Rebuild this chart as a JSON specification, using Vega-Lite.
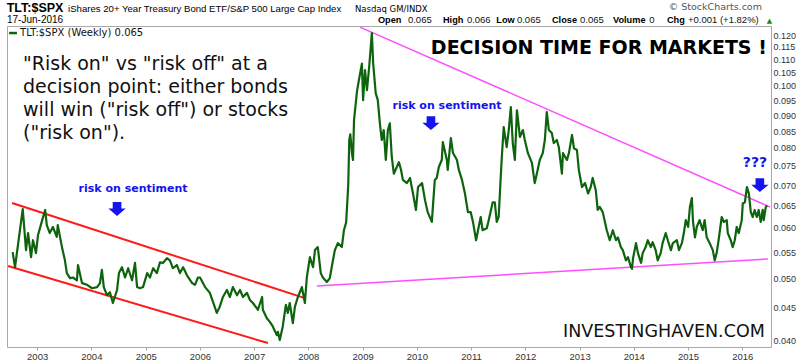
{
  "$schema": "https://vega.github.io/schema/vega-lite/v6.json",
  "width": 764,
  "height": 321,
  "autosize": {"type": "none"},
  "padding": {"left": 7, "top": 26, "right": 29, "bottom": 13},
  "background": "white",
  "config": {"view": {"stroke": "#a8a8a8", "strokeWidth": 1}},
  "encoding": {
    "x": {
      "field": "date", "type": "temporal",
      "scale": {"type": "utc", "nice": false, "domain": [{"year": 2002, "month": 6, "date": 12, "utc": true}, {"year": 2016, "month": 7, "date": 13, "utc": true}]},
      "axis": {
        "title": null, "grid": false, "domain": false, "ticks": true, "tickSize": 3, "tickColor": "#aaaaaa",
        "labelFont": "Liberation Sans", "labelFontSize": 9.5, "labelColor": "#333333", "labelPadding": 1, "labelFlush": false,
        "format": "%Y", "formatType": "utc",
        "values": [{"year": 2003, "utc": true}, {"year": 2004, "utc": true}, {"year": 2005, "utc": true}, {"year": 2006, "utc": true}, {"year": 2007, "utc": true}, {"year": 2008, "utc": true}, {"year": 2009, "utc": true}, {"year": 2010, "utc": true}, {"year": 2011, "utc": true}, {"year": 2012, "utc": true}, {"year": 2013, "utc": true}, {"year": 2014, "utc": true}, {"year": 2015, "utc": true}, {"year": 2016, "utc": true}]
      }
    },
    "y": {
      "field": "v", "type": "quantitative",
      "scale": {"type": "log", "domain": [0.0391, 0.124], "nice": false, "zero": false},
      "axis": {
        "orient": "right", "title": null, "grid": false, "domain": false, "ticks": false,
        "labelFont": "Liberation Sans", "labelFontSize": 9, "labelColor": "#333333", "labelPadding": 2,
        "labelOverlap": false, "labelFlush": false, "format": ".3f",
        "values": [0.04, 0.045, 0.05, 0.055, 0.06, 0.065, 0.07, 0.075, 0.08, 0.085, 0.09, 0.095, 0.1, 0.105, 0.11, 0.115, 0.12]
      }
    }
  },
  "layer": [
    {
      "data": {"values": [
        {"seg": "upper", "date": "2002-07-16", "v": 0.06561}, {"seg": "upper", "date": "2007-12-09", "v": 0.04661},
        {"seg": "lower", "date": "2002-06-19", "v": 0.05233}, {"seg": "lower", "date": "2007-04-04", "v": 0.03966}
      ]},
      "mark": {"type": "line", "color": "#ff1a1a", "strokeWidth": 2},
      "encoding": {"detail": {"field": "seg"}}
    },
    {
      "data": {"values": [
        {"seg": "upper", "date": "2008-12-14", "v": 0.12352}, {"seg": "upper", "date": "2016-07-06", "v": 0.06468},
        {"seg": "lower", "date": "2008-02-28", "v": 0.04867}, {"seg": "lower", "date": "2016-06-22", "v": 0.05366}
      ]},
      "mark": {"type": "line", "color": "#ff4dff", "strokeWidth": 1.5},
      "encoding": {"detail": {"field": "seg"}}
    },
    {
      "data": {"values": [
        {"date": "2002-07-20", "v": 0.0550}, {"date": "2002-08-05", "v": 0.0521}, {"date": "2002-09-26", "v": 0.0642}, {"date": "2002-10-18", "v": 0.0554},
        {"date": "2002-11-01", "v": 0.0589}, {"date": "2002-11-21", "v": 0.0540}, {"date": "2002-12-04", "v": 0.0574}, {"date": "2002-12-24", "v": 0.0548},
        {"date": "2003-01-07", "v": 0.0585}, {"date": "2003-02-04", "v": 0.0617}, {"date": "2003-02-24", "v": 0.0640}, {"date": "2003-03-07", "v": 0.0606},
        {"date": "2003-03-27", "v": 0.0589}, {"date": "2003-04-17", "v": 0.0602}, {"date": "2003-05-13", "v": 0.0581}, {"date": "2003-05-20", "v": 0.0606},
        {"date": "2003-06-17", "v": 0.0560}, {"date": "2003-07-07", "v": 0.0534}, {"date": "2003-07-20", "v": 0.0510}, {"date": "2003-08-10", "v": 0.0501},
        {"date": "2003-08-30", "v": 0.0502}, {"date": "2003-09-26", "v": 0.0497}, {"date": "2003-10-03", "v": 0.0525}, {"date": "2003-10-30", "v": 0.0492},
        {"date": "2003-12-03", "v": 0.0489}, {"date": "2004-01-06", "v": 0.0483}, {"date": "2004-02-09", "v": 0.0485}, {"date": "2004-02-28", "v": 0.0492},
        {"date": "2004-03-12", "v": 0.0516}, {"date": "2004-03-25", "v": 0.0485}, {"date": "2004-04-15", "v": 0.0471}, {"date": "2004-05-05", "v": 0.0476},
        {"date": "2004-05-25", "v": 0.0458}, {"date": "2004-06-22", "v": 0.0480}, {"date": "2004-07-05", "v": 0.0510}, {"date": "2004-07-25", "v": 0.0521},
        {"date": "2004-08-15", "v": 0.0502}, {"date": "2004-09-05", "v": 0.0519}, {"date": "2004-10-01", "v": 0.0497}, {"date": "2004-10-21", "v": 0.0529},
        {"date": "2004-11-04", "v": 0.0485}, {"date": "2004-11-24", "v": 0.0483}, {"date": "2004-12-14", "v": 0.0485}, {"date": "2005-01-11", "v": 0.0510},
        {"date": "2005-01-30", "v": 0.0502}, {"date": "2005-02-20", "v": 0.0519}, {"date": "2005-03-17", "v": 0.0510}, {"date": "2005-04-07", "v": 0.0530},
        {"date": "2005-04-27", "v": 0.0529}, {"date": "2005-05-24", "v": 0.0538}, {"date": "2005-06-13", "v": 0.0534}, {"date": "2005-07-03", "v": 0.0519},
        {"date": "2005-07-30", "v": 0.0525}, {"date": "2005-08-20", "v": 0.0510}, {"date": "2005-09-10", "v": 0.0521}, {"date": "2005-10-06", "v": 0.0506},
        {"date": "2005-11-10", "v": 0.0492}, {"date": "2005-11-29", "v": 0.0489}, {"date": "2005-12-19", "v": 0.0502}, {"date": "2006-01-02", "v": 0.0502},
        {"date": "2006-02-05", "v": 0.0485}, {"date": "2006-03-09", "v": 0.0475}, {"date": "2006-04-25", "v": 0.0442}, {"date": "2006-05-15", "v": 0.0452},
        {"date": "2006-06-05", "v": 0.0468}, {"date": "2006-07-02", "v": 0.0480}, {"date": "2006-07-22", "v": 0.0468}, {"date": "2006-08-11", "v": 0.0485},
        {"date": "2006-09-08", "v": 0.0471}, {"date": "2006-09-28", "v": 0.0480}, {"date": "2006-10-18", "v": 0.0468}, {"date": "2006-11-14", "v": 0.0475},
        {"date": "2006-12-04", "v": 0.0463}, {"date": "2006-12-24", "v": 0.0458}, {"date": "2007-01-27", "v": 0.0447}, {"date": "2007-02-24", "v": 0.0468},
        {"date": "2007-03-01", "v": 0.0447}, {"date": "2007-03-27", "v": 0.0434}, {"date": "2007-04-17", "v": 0.0428}, {"date": "2007-05-07", "v": 0.0421},
        {"date": "2007-06-03", "v": 0.0408}, {"date": "2007-06-10", "v": 0.0413}, {"date": "2007-06-23", "v": 0.0401}, {"date": "2007-07-13", "v": 0.0421},
        {"date": "2007-08-03", "v": 0.0455}, {"date": "2007-08-16", "v": 0.0442}, {"date": "2007-08-29", "v": 0.0458}, {"date": "2007-09-19", "v": 0.0426},
        {"date": "2007-10-03", "v": 0.0452}, {"date": "2007-10-23", "v": 0.0468}, {"date": "2007-11-19", "v": 0.0485}, {"date": "2007-12-09", "v": 0.0458},
        {"date": "2007-12-22", "v": 0.0502}, {"date": "2008-01-12", "v": 0.0540}, {"date": "2008-02-02", "v": 0.0521}, {"date": "2008-02-15", "v": 0.0554},
        {"date": "2008-03-05", "v": 0.0560}, {"date": "2008-03-25", "v": 0.0510}, {"date": "2008-04-08", "v": 0.0502}, {"date": "2008-05-05", "v": 0.0494},
        {"date": "2008-05-25", "v": 0.0501}, {"date": "2008-06-15", "v": 0.0534}, {"date": "2008-06-28", "v": 0.0554}, {"date": "2008-07-18", "v": 0.0568},
        {"date": "2008-08-14", "v": 0.0560}, {"date": "2008-08-28", "v": 0.0595}, {"date": "2008-09-12", "v": 0.0612}, {"date": "2008-09-26", "v": 0.0700},
        {"date": "2008-10-03", "v": 0.0823}, {"date": "2008-10-10", "v": 0.0840}, {"date": "2008-10-21", "v": 0.0785}, {"date": "2008-10-28", "v": 0.0766},
        {"date": "2008-11-04", "v": 0.0884}, {"date": "2008-11-24", "v": 0.0981}, {"date": "2008-12-07", "v": 0.1021}, {"date": "2008-12-27", "v": 0.1083},
        {"date": "2009-01-04", "v": 0.0950}, {"date": "2009-01-17", "v": 0.1058}, {"date": "2009-01-30", "v": 0.0985}, {"date": "2009-02-14", "v": 0.1070},
        {"date": "2009-03-04", "v": 0.1209}, {"date": "2009-03-13", "v": 0.1083}, {"date": "2009-03-30", "v": 0.0974}, {"date": "2009-04-13", "v": 0.0950},
        {"date": "2009-04-27", "v": 0.0874}, {"date": "2009-05-10", "v": 0.0823}, {"date": "2009-05-23", "v": 0.0853}, {"date": "2009-06-06", "v": 0.0766},
        {"date": "2009-06-20", "v": 0.0853}, {"date": "2009-07-03", "v": 0.0874}, {"date": "2009-07-16", "v": 0.0775}, {"date": "2009-07-30", "v": 0.0729},
        {"date": "2009-08-19", "v": 0.0747}, {"date": "2009-09-02", "v": 0.0760}, {"date": "2009-09-16", "v": 0.0740}, {"date": "2009-09-29", "v": 0.0713},
        {"date": "2009-10-26", "v": 0.0705}, {"date": "2009-11-16", "v": 0.0718}, {"date": "2009-12-06", "v": 0.0679}, {"date": "2009-12-26", "v": 0.0640},
        {"date": "2010-01-09", "v": 0.0695}, {"date": "2010-02-05", "v": 0.0705}, {"date": "2010-02-25", "v": 0.0663}, {"date": "2010-03-15", "v": 0.0635},
        {"date": "2010-04-12", "v": 0.0613}, {"date": "2010-04-19", "v": 0.0647}, {"date": "2010-05-02", "v": 0.0713}, {"date": "2010-05-15", "v": 0.0718},
        {"date": "2010-05-29", "v": 0.0747}, {"date": "2010-06-18", "v": 0.0766}, {"date": "2010-06-25", "v": 0.0817}, {"date": "2010-07-22", "v": 0.0766},
        {"date": "2010-07-28", "v": 0.0739}, {"date": "2010-08-18", "v": 0.0829}, {"date": "2010-09-01", "v": 0.0786}, {"date": "2010-09-28", "v": 0.0766},
        {"date": "2010-10-11", "v": 0.0739}, {"date": "2010-11-01", "v": 0.0713}, {"date": "2010-11-21", "v": 0.0679}, {"date": "2010-12-11", "v": 0.0635},
        {"date": "2010-12-30", "v": 0.0635}, {"date": "2011-01-14", "v": 0.0613}, {"date": "2011-02-04", "v": 0.0574}, {"date": "2011-02-17", "v": 0.0595},
        {"date": "2011-03-07", "v": 0.0624}, {"date": "2011-03-20", "v": 0.0595}, {"date": "2011-04-17", "v": 0.0599}, {"date": "2011-04-30", "v": 0.0617},
        {"date": "2011-05-27", "v": 0.0658}, {"date": "2011-06-10", "v": 0.0658}, {"date": "2011-06-23", "v": 0.0613}, {"date": "2011-07-06", "v": 0.0624},
        {"date": "2011-07-26", "v": 0.0766}, {"date": "2011-08-09", "v": 0.0862}, {"date": "2011-08-29", "v": 0.0802}, {"date": "2011-09-12", "v": 0.0853},
        {"date": "2011-09-26", "v": 0.0926}, {"date": "2011-10-09", "v": 0.0814}, {"date": "2011-10-23", "v": 0.0766}, {"date": "2011-11-06", "v": 0.0916},
        {"date": "2011-11-26", "v": 0.0832}, {"date": "2011-12-16", "v": 0.0853}, {"date": "2011-12-29", "v": 0.0823}, {"date": "2012-01-19", "v": 0.0785},
        {"date": "2012-02-15", "v": 0.0758}, {"date": "2012-03-05", "v": 0.0705}, {"date": "2012-03-19", "v": 0.0729}, {"date": "2012-04-08", "v": 0.0766},
        {"date": "2012-04-28", "v": 0.0785}, {"date": "2012-05-12", "v": 0.0823}, {"date": "2012-05-25", "v": 0.0910}, {"date": "2012-06-08", "v": 0.0853},
        {"date": "2012-06-28", "v": 0.0844}, {"date": "2012-07-11", "v": 0.0814}, {"date": "2012-08-01", "v": 0.0823}, {"date": "2012-08-14", "v": 0.0802},
        {"date": "2012-09-04", "v": 0.0729}, {"date": "2012-09-11", "v": 0.0785}, {"date": "2012-10-08", "v": 0.0766}, {"date": "2012-10-21", "v": 0.0785},
        {"date": "2012-11-11", "v": 0.0838}, {"date": "2012-11-24", "v": 0.0799}, {"date": "2012-12-14", "v": 0.0794}, {"date": "2012-12-27", "v": 0.0739},
        {"date": "2013-01-17", "v": 0.0695}, {"date": "2013-02-07", "v": 0.0705}, {"date": "2013-02-27", "v": 0.0679}, {"date": "2013-03-17", "v": 0.0695},
        {"date": "2013-03-30", "v": 0.0718}, {"date": "2013-04-20", "v": 0.0687}, {"date": "2013-05-03", "v": 0.0640}, {"date": "2013-05-17", "v": 0.0647},
        {"date": "2013-06-06", "v": 0.0635}, {"date": "2013-07-03", "v": 0.0595}, {"date": "2013-07-23", "v": 0.0574}, {"date": "2013-08-13", "v": 0.0595},
        {"date": "2013-09-03", "v": 0.0574}, {"date": "2013-09-16", "v": 0.0580}, {"date": "2013-10-06", "v": 0.0560}, {"date": "2013-10-19", "v": 0.0554},
        {"date": "2013-11-09", "v": 0.0534}, {"date": "2013-11-23", "v": 0.0540}, {"date": "2013-12-13", "v": 0.0521}, {"date": "2013-12-20", "v": 0.0518},
        {"date": "2013-12-27", "v": 0.0538}, {"date": "2014-01-16", "v": 0.0568}, {"date": "2014-01-29", "v": 0.0548}, {"date": "2014-02-19", "v": 0.0529},
        {"date": "2014-03-02", "v": 0.0548}, {"date": "2014-03-22", "v": 0.0560}, {"date": "2014-04-05", "v": 0.0574}, {"date": "2014-04-25", "v": 0.0560},
        {"date": "2014-05-08", "v": 0.0570}, {"date": "2014-05-28", "v": 0.0554}, {"date": "2014-06-11", "v": 0.0534}, {"date": "2014-07-01", "v": 0.0548},
        {"date": "2014-07-14", "v": 0.0568}, {"date": "2014-08-04", "v": 0.0589}, {"date": "2014-08-18", "v": 0.0574}, {"date": "2014-09-08", "v": 0.0554},
        {"date": "2014-09-21", "v": 0.0568}, {"date": "2014-10-18", "v": 0.0574}, {"date": "2014-11-01", "v": 0.0554}, {"date": "2014-11-21", "v": 0.0568},
        {"date": "2014-12-04", "v": 0.0589}, {"date": "2014-12-17", "v": 0.0617}, {"date": "2015-01-02", "v": 0.0602}, {"date": "2015-01-14", "v": 0.0647},
        {"date": "2015-01-27", "v": 0.0668}, {"date": "2015-02-04", "v": 0.0613}, {"date": "2015-02-17", "v": 0.0580}, {"date": "2015-03-01", "v": 0.0602},
        {"date": "2015-03-20", "v": 0.0617}, {"date": "2015-04-10", "v": 0.0595}, {"date": "2015-04-23", "v": 0.0617}, {"date": "2015-05-07", "v": 0.0580},
        {"date": "2015-05-27", "v": 0.0568}, {"date": "2015-06-17", "v": 0.0554}, {"date": "2015-06-30", "v": 0.0534}, {"date": "2015-07-13", "v": 0.0548},
        {"date": "2015-07-26", "v": 0.0574}, {"date": "2015-08-16", "v": 0.0624}, {"date": "2015-08-30", "v": 0.0613}, {"date": "2015-09-19", "v": 0.0617},
        {"date": "2015-09-26", "v": 0.0589}, {"date": "2015-10-16", "v": 0.0574}, {"date": "2015-10-29", "v": 0.0560}, {"date": "2015-11-12", "v": 0.0574},
        {"date": "2015-11-25", "v": 0.0602}, {"date": "2015-12-09", "v": 0.0589}, {"date": "2015-12-29", "v": 0.0617}, {"date": "2016-01-05", "v": 0.0655},
        {"date": "2016-01-19", "v": 0.0658}, {"date": "2016-02-02", "v": 0.0695}, {"date": "2016-02-15", "v": 0.0679}, {"date": "2016-02-28", "v": 0.0635},
        {"date": "2016-03-12", "v": 0.0624}, {"date": "2016-03-25", "v": 0.0640}, {"date": "2016-04-08", "v": 0.0624}, {"date": "2016-04-21", "v": 0.0640},
        {"date": "2016-05-05", "v": 0.0613}, {"date": "2016-05-18", "v": 0.0640}, {"date": "2016-05-25", "v": 0.0617}, {"date": "2016-06-08", "v": 0.0647},
        {"date": "2016-06-17", "v": 0.0650}
      ]},
      "mark": {"type": "line", "color": "#0d640d", "strokeWidth": 2.2, "strokeJoin": "round"}
    },
    {
      "data": {"values": [{"date": "2002-06-26", "v": 0.1209}, {"date": "2002-08-18", "v": 0.1209}]},
      "mark": {"type": "line", "color": "#0d640d", "strokeWidth": 2.5}
    },
    {
      "data": {"values": [{"date": "2002-09-08", "v": 0.1209, "label": "TLT:$SPX (Weekly) 0.065"}]},
      "mark": {"type": "text", "font": "DejaVu Sans", "fontSize": 10, "color": "#111111", "align": "left", "baseline": "middle"},
      "encoding": {"text": {"field": "label"}}
    },
    {
      "data": {"values": [{"date": "2002-06-10", "v": 0.1303, "label": "TLT:$SPX"}]},
      "mark": {"type": "text", "font": "Liberation Sans", "fontSize": 12.5, "fontWeight": "bold", "color": "#000000", "align": "left", "baseline": "alphabetic"},
      "encoding": {"text": {"field": "label"}}
    },
    {
      "data": {"values": [
        {"date": "2003-07-28", "v": 0.1303, "label": "iShares 20+ Year Treasury Bond ETF/S&P 500 Large Cap Index"}
      ]},
      "mark": {"type": "text", "font": "Liberation Sans", "fontSize": 9.6, "color": "#000000", "align": "left", "baseline": "alphabetic"},
      "encoding": {"text": {"field": "label"}}
    },
    {
      "data": {"values": [
        {"date": "2002-06-12", "v": 0.1253, "label": "17-Jun-2016"}
      ]},
      "mark": {"type": "text", "font": "Liberation Sans", "fontSize": 10, "color": "#000000", "align": "left", "baseline": "alphabetic"},
      "encoding": {"text": {"field": "label"}}
    },
    {
      "data": {"values": [{"date": "2008-11-10", "v": 0.1303, "label": "Nasdaq GM/INDX"}]},
      "mark": {"type": "text", "font": "DejaVu Sans", "fontSize": 8.5, "color": "#000000", "align": "left", "baseline": "alphabetic"},
      "encoding": {"text": {"field": "label"}}
    },
    {
      "data": {"values": [{"date": "2016-05-13", "v": 0.1313, "label": "© StockCharts.com"}]},
      "mark": {"type": "text", "font": "DejaVu Sans", "fontSize": 9.5, "color": "#555555", "align": "right", "baseline": "alphabetic"},
      "encoding": {"text": {"field": "label"}}
    },
    {
      "data": {"values": [
        {"date": "2009-04-14", "v": 0.1253, "label": "Open"},
        {"date": "2010-06-26", "v": 0.1253, "label": "High"},
        {"date": "2011-06-20", "v": 0.1253, "label": "Low"},
        {"date": "2012-06-29", "v": 0.1253, "label": "Close"},
        {"date": "2013-08-14", "v": 0.1253, "label": "Volume"},
        {"date": "2014-08-12", "v": 0.1253, "label": "Chg"}
      ]},
      "mark": {"type": "text", "font": "Liberation Sans", "fontSize": 9.2, "fontWeight": "bold", "color": "#000000", "align": "left", "baseline": "alphabetic"},
      "encoding": {"text": {"field": "label"}}
    },
    {
      "data": {"values": [
        {"date": "2009-11-02", "v": 0.1253, "label": "0.065"},
        {"date": "2010-12-04", "v": 0.1253, "label": "0.066"},
        {"date": "2011-11-06", "v": 0.1253, "label": "0.065"},
        {"date": "2013-01-04", "v": 0.1253, "label": "0.065"},
        {"date": "2014-04-15", "v": 0.1253, "label": "0"},
        {"date": "2015-01-01", "v": 0.1253, "label": "+0.001 (+1.82%)"}
      ]},
      "mark": {"type": "text", "font": "Liberation Sans", "fontSize": 9.5, "color": "#111111", "align": "left", "baseline": "alphabetic"},
      "encoding": {"text": {"field": "label"}}
    },
    {
      "data": {"values": [{"date": "2016-06-15", "v": 0.1253, "label": "▲"}]},
      "mark": {"type": "text", "font": "DejaVu Sans", "fontSize": 7, "color": "#1a8a1a", "align": "left", "baseline": "alphabetic"},
      "encoding": {"text": {"field": "label"}}
    },
    {
      "data": {"values": [{"date": "2002-09-28", "v": 0.10583, "label": ["\"Risk on\" vs \"risk off\" at a", "decision point: either bonds", "will win (\"risk off\") or stocks", "(\"risk on\")."]}]},
      "mark": {"type": "text", "font": "DejaVu Sans", "fontSize": 19, "lineHeight": 23, "color": "#111111", "align": "left", "baseline": "alphabetic"},
      "encoding": {"text": {"field": "label"}}
    },
    {
      "data": {"values": [{"date": "2016-06-15", "v": 0.11208, "label": "DECISION TIME FOR MARKETS !"}]},
      "mark": {"type": "text", "font": "DejaVu Sans", "fontSize": 19, "fontWeight": "bold", "color": "#000000", "align": "right", "baseline": "alphabetic"},
      "encoding": {"text": {"field": "label"}}
    },
    {
      "data": {"values": [{"date": "2016-06-01", "v": 0.04053, "label": "INVESTINGHAVEN.COM"}]},
      "mark": {"type": "text", "font": "DejaVu Sans", "fontSize": 17.5, "color": "#111111", "align": "right", "baseline": "alphabetic"},
      "encoding": {"text": {"field": "label"}}
    },
    {
      "data": {"values": [
        {"date": "2004-10-08", "v": 0.06898, "label": "risk on sentiment"},
        {"date": "2010-07-23", "v": 0.09297, "label": "risk on sentiment"}
      ]},
      "mark": {"type": "text", "font": "DejaVu Sans", "fontSize": 11, "fontWeight": "bold", "color": "#1414f0", "align": "center", "baseline": "middle"},
      "encoding": {"text": {"field": "label"}}
    },
    {
      "data": {"values": [{"date": "2016-03-27", "v": 0.07573, "label": "???"}]},
      "mark": {"type": "text", "font": "DejaVu Sans", "fontSize": 14, "fontWeight": "bold", "color": "#1414f0", "align": "center", "baseline": "middle"},
      "encoding": {"text": {"field": "label"}}
    },
    {
      "data": {"values": [
        {"date": "2004-06-22", "v": 0.06421},
        {"date": "2010-04-06", "v": 0.08745},
        {"date": "2016-04-29", "v": 0.06999}
      ]},
      "mark": {"type": "point", "shape": "M-0.5,-0.8 L0.5,-0.8 L0.5,-0.05 L1,-0.05 L0,0.8 L-1,-0.05 L-0.5,-0.05 Z", "size": 300, "filled": true, "color": "#1414f0", "opacity": 1, "strokeWidth": 0}
    }
  ]
}
